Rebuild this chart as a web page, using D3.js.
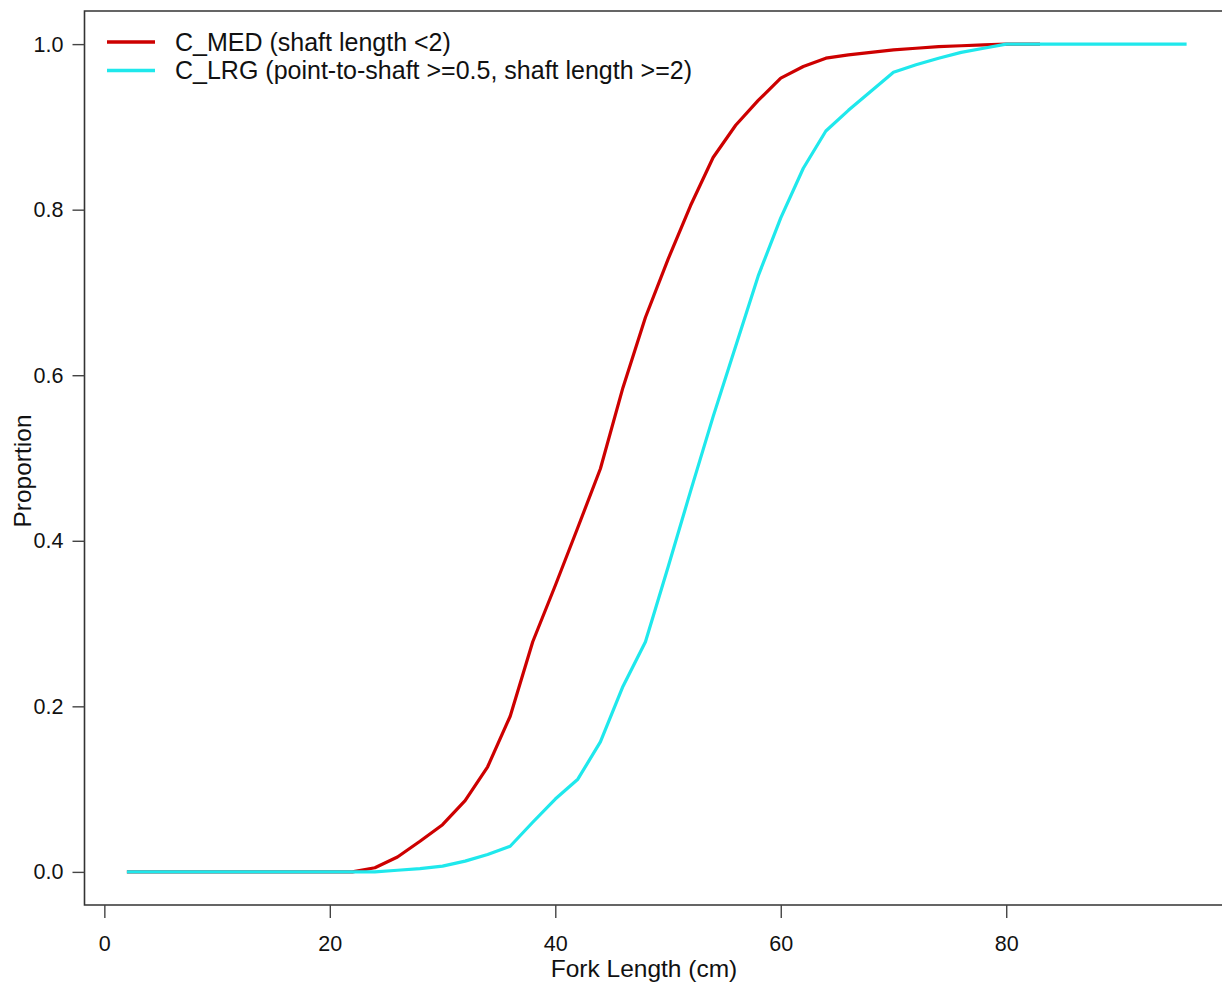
<!DOCTYPE html>
<html>
<head>
<meta charset="utf-8">
<script src="https://cdn.jsdelivr.net/npm/d3@7"></script>
<style>
  html, body { margin: 0; padding: 0; background: #fff; overflow: hidden; }
  svg { display: block; font-family: "Liberation Sans", Arial, sans-serif; }
</style>
</head>
<body>
<svg id="chart" width="1222" height="982"></svg>
<script>
// Cumulative proportion by fork length for two size classes
const medLength = [2, 4, 6, 8, 10, 12, 14, 16, 18, 20, 22, 24, 26, 28, 30, 32, 34, 36, 38, 40,
  42, 44, 46, 48, 50, 52, 54, 56, 58, 60, 62, 64, 66, 68, 70, 72, 74, 76, 78, 80, 82, 83];
const medProp = [0, 0, 0, 0, 0, 0, 0, 0, 0, 0, 0, 0.005, 0.018, 0.037, 0.057, 0.086, 0.127, 0.188, 0.278, 0.346,
  0.416, 0.487, 0.585, 0.670, 0.740, 0.805, 0.863, 0.902, 0.932, 0.959, 0.973, 0.983, 0.987, 0.990, 0.993, 0.995, 0.997, 0.998, 0.999, 1.0, 1.0, 1.0];

const lrgLength = [2, 4, 6, 8, 10, 12, 14, 16, 18, 20, 22, 24, 26, 28, 30, 32, 34, 36, 38, 40,
  42, 44, 46, 48, 50, 52, 54, 56, 58, 60, 62, 64, 66, 68, 70, 72, 74, 76, 78, 80,
  82, 84, 86, 88, 90, 92, 94, 96];
const lrgProp = [0, 0, 0, 0, 0, 0, 0, 0, 0, 0, 0, 0, 0.002, 0.004, 0.007, 0.013, 0.021, 0.031, 0.060, 0.088,
  0.112, 0.157, 0.224, 0.278, 0.368, 0.460, 0.550, 0.635, 0.720, 0.790, 0.850, 0.895, 0.920, 0.943, 0.966, 0.975, 0.983, 0.990, 0.995, 1.0,
  1.0, 1.0, 1.0, 1.0, 1.0, 1.0, 1.0, 1.0];

const xTicks = [0, 20, 40, 60, 80];
const yTicks = [0.0, 0.2, 0.4, 0.6, 0.8, 1.0];
const seriesNames = ["C_MED (shaft length <2)", "C_LRG (point-to-shaft >=0.5, shaft length >=2)"];
const seriesColors = ["#cd0000", "#1fe8ec"];
const xTitle = "Fork Length (cm)";
const yTitle = "Proportion";

const svg = d3.select("#chart");

// Plot region with 4% padding on each side of the data range
const xMin = 2, xMax = 96;
const xPad = (xMax - xMin) * 0.04;
const yPad = 0.04;
const plotLeft = 84.5, plotRight = 1229, plotTop = 11, plotBottom = 905;

const x = d3.scaleLinear().domain([xMin - xPad, xMax + xPad]).range([plotLeft, plotRight]);
const y = d3.scaleLinear().domain([0 - yPad, 1 + yPad]).range([plotBottom, plotTop]);

// Frame: left, top and bottom edges (the right edge lies past the canvas)
svg.append("path")
  .attr("d", `M${plotRight},${plotTop}H${plotLeft}V${plotBottom}H${plotRight}`)
  .attr("fill", "none").attr("stroke", "#333").attr("stroke-width", 1.6);

// Axes
const xAxis = svg.append("g")
  .attr("transform", `translate(0,${plotBottom})`)
  .call(d3.axisBottom(x).tickValues(xTicks).tickFormat(d3.format("d")).tickSize(13).tickPadding(18));
const yAxis = svg.append("g")
  .attr("transform", `translate(${plotLeft},0)`)
  .call(d3.axisLeft(y).tickValues(yTicks).tickFormat(d3.format(".1f")).tickSize(12).tickPadding(9));

[xAxis, yAxis].forEach(g => {
  g.select(".domain").remove();
  g.selectAll(".tick line").attr("stroke", "#444").attr("stroke-width", 1.4);
  g.selectAll(".tick text").attr("fill", "#111").style("font-size", "21.5px");
});

// Axis titles
svg.append("text")
  .attr("x", 644).attr("y", 977)
  .attr("text-anchor", "middle")
  .style("font-size", "24.5px").attr("fill", "#111")
  .text(xTitle);
svg.append("text")
  .attr("transform", `translate(31,471) rotate(-90)`)
  .attr("text-anchor", "middle")
  .style("font-size", "24.5px").attr("fill", "#111")
  .text(yTitle);

// Curves
const line = d3.line()
  .x(d => x(d[0]))
  .y(d => y(d[1]));

const series = [
  d3.zip(medLength, medProp),
  d3.zip(lrgLength, lrgProp)
];

series.forEach((pts, i) => {
  svg.append("path")
    .datum(pts)
    .attr("d", line)
    .attr("fill", "none")
    .attr("stroke", seriesColors[i])
    .attr("stroke-width", 3.2)
    .attr("stroke-linejoin", "round");
});

// Legend (top left, no frame)
const legend = svg.append("g");
seriesNames.forEach((name, i) => {
  const ly = 42 + i * 28.5;
  legend.append("line")
    .attr("x1", 107).attr("x2", 155)
    .attr("y1", ly).attr("y2", ly)
    .attr("stroke", seriesColors[i]).attr("stroke-width", 3.5);
  legend.append("text")
    .attr("x", 175).attr("y", ly)
    .attr("dy", "0.35em")
    .style("font-size", "25px").attr("fill", "#111")
    .text(name);
});
</script>
</body>
</html>
